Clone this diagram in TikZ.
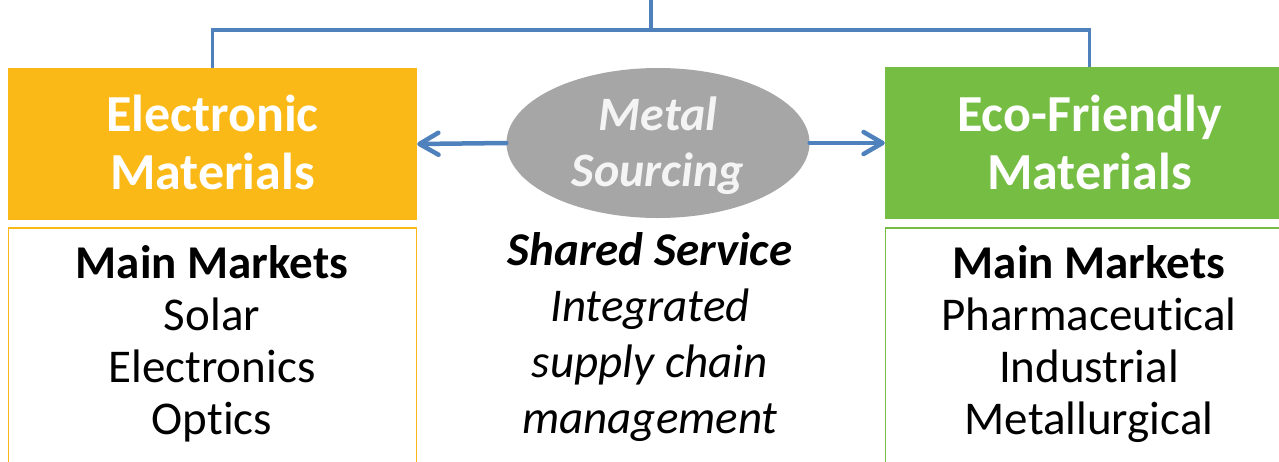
\documentclass[tikz,border=0pt]{standalone}
\usepackage{fontspec}
\setmainfont{Carlito}[Ligatures=CommonOff]
\usetikzlibrary{arrows.meta,shapes.geometric}
\definecolor{orangeA}{HTML}{FBB917}
\definecolor{greenA}{HTML}{76BE43}
\definecolor{greyA}{HTML}{A6A6A6}
\definecolor{blueA}{HTML}{4F81BD}
\definecolor{whiteA}{HTML}{F4F4F4}
\tikzset{
  titlebox/.style={rectangle, inner sep=0pt, minimum width=409pt, minimum height=152pt},
  titletext/.style={text=white, align=center, inner sep=0pt, font=\bfseries\fontsize{52}{58}\selectfont},
  marketbox/.style={rectangle, draw, line width=1.5pt, inner sep=0pt, minimum width=408pt,
    minimum height=260pt, anchor=north},
  markettext/.style={align=center, inner sep=0pt, font=\fontsize{47}{52}\selectfont},
  tree/.style={draw=blueA, line width=3.5pt},
  arr/.style={draw=blueA, line width=4.5pt, line cap=round, line join=round,
    -{Straight Barb[length=19pt,width=22pt,line cap=round,line join=round]}},
}
\begin{document}
\begin{tikzpicture}[x=1pt,y=-1pt]
\useasboundingbox (0,0) rectangle (1279,461);
\clip (0,0) rectangle (1279,461);
\fill[white] (0,0) rectangle (1279,461);

\node[titlebox, fill=orangeA] (em) at (212.5,144) {};
\node[titletext] (emt) at (212.5,142) {Electronic\\Materials};
\node[titlebox, fill=greenA] (eco) at (1089.5,143) {};
\node[titletext] (ecot) at (1089.5,142) {Eco-Friendly\\Materials};
\node[ellipse, fill=greyA, inner sep=0pt, minimum width=303pt, minimum height=150pt] (ms) at (658,143) {};
\node[text=whiteA, align=center, inner sep=0pt, font=\bfseries\itshape\fontsize{48}{56}\selectfont]
  (mst) at (658,146) {Metal\\Sourcing};

\node[marketbox, draw=orangeA] (lb) at (212.5,227) {};
\node[marketbox, draw=greenA] (rb) at (1089.5,227) {};

\node[markettext] (lt) at (212,344) {\textbf{Main Markets}\\Solar\\Electronics\\Optics};
\node[markettext] (rt) at (1089,344) {\textbf{Main Markets}\\Pharmaceutical\\Industrial\\Metallurgical};
\node[align=center, inner sep=0pt, font=\itshape\fontsize{47}{56}\selectfont]
  (ss) at (650,337) {\textbf{Shared Service}\\Integrated\\supply chain\\management};

\coordinate (top) at (651,-2);
\coordinate (j) at (651,30);
\draw[tree] (top) -- (j);
\draw[tree] (em.north) |- (j) -| (eco.north);

\draw[arr] (ms.west) -- (em.east);
\draw[arr] (ms.east) -- (eco.west);
\end{tikzpicture}
\end{document}
